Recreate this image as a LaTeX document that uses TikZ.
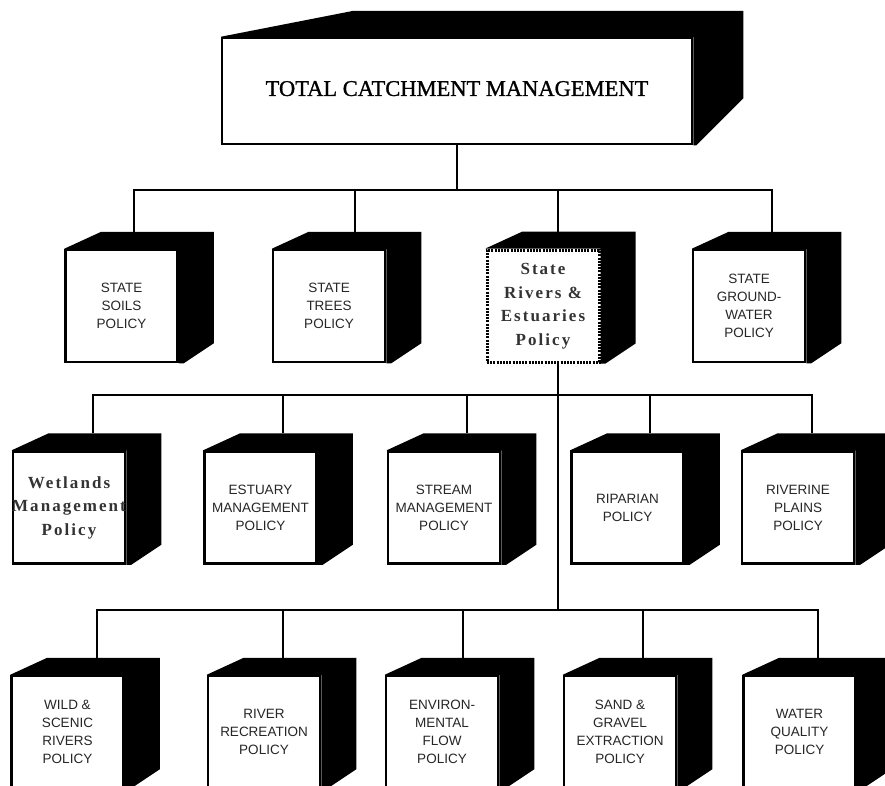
\documentclass[tikz,border=0pt]{standalone}
\usepackage{fontspec}
\setmainfont{Liberation Serif}
\setsansfont{Liberation Sans}
\usepackage{tikz}
\tikzset{
    > = latex
}

\begin{document}
\begin{tikzpicture}[x=1pt, y=-1pt, line width=2]
        \tikzstyle{face}=[draw, fill=white, line width=2.5, minimum width=112, minimum height=112, inner sep=0, align=center, text=black!85, font=\sffamily\fontsize{13.5}{18}\selectfont]
        \tikzstyle{serif}=[text=black!80, font=\rmfamily\bfseries\fontsize{17}{23.5}\selectfont\addfontfeature{LetterSpace=12}]
        \useasboundingbox (0,0) rectangle (885,785);
        \clip (0,0) rectangle (885,785);
        % top block
        \node[face, minimum width=470, minimum height=106, text=black, font=\rmfamily\fontsize{22.5}{27}\selectfont\addfontfeature{FakeBold=1}] (tcm) at (457,91) {\raisebox{5pt}{TOTAL CATCHMENT MANAGEMENT}};
        \fill (tcm.north west) -- ++(133,-26) -| ([shift={(50,-47)}]tcm.south east) -- ([shift={(3,0)}]tcm.south east) -- (tcm.south east) -- (tcm.north east) -- cycle;
        % state policies
        \node[face] (soils) at (121.5,306) {STATE\\SOILS\\POLICY};
        \node[face] (trees) at (329,306) {STATE\\TREES\\POLICY};
        \node[face, serif, line width=3, dash pattern=on 2pt off 1.2pt] (rivers) at (543,306) {State\\Rivers \&\\Estuaries\\Policy};
        \node[face] (ground) at (749,306) {STATE\\GROUND-\\WATER\\POLICY};
        % river policies
        \node[face, serif] (wetlands) at (69,507.5) {Wetlands\\\makebox[0pt]{Management}\\Policy};
        \node[face] (estuary) at (260.5,507.5) {ESTUARY\\MANAGEMENT\\POLICY};
        \node[face] (stream) at (444,507.5) {STREAM\\MANAGEMENT\\POLICY};
        \node[face] (riparian) at (627.5,507.5) {RIPARIAN\\POLICY};
        \node[face] (riverine) at (798,507.5) {RIVERINE\\PLAINS\\POLICY};
        \node[face] (wild) at (67.5,732) {WILD \&\\SCENIC\\RIVERS\\POLICY};
        \node[face] (recreation) at (264,732) {RIVER\\RECREATION\\POLICY};
        \node[face] (environ) at (442,732) {ENVIRON-\\MENTAL\\FLOW\\POLICY};
        \node[face] (sand) at (620,732) {SAND \&\\GRAVEL\\EXTRACTION\\POLICY};
        \node[face] (water) at (799.5,732) {WATER\\QUALITY\\POLICY};
        \foreach \b in {soils,trees,rivers,ground,wetlands,estuary,stream,riparian,riverine,wild,recreation,environ,sand,water}
            \fill (\b.north west) -- ++(37,-17) -| ([shift={(35,-20)}]\b.south east) -- ([shift={(5,0)}]\b.south east) -- (\b.south east) -- (\b.north east) -- cycle;
        % connectors
        \coordinate (row2) at (0,190);
        \coordinate (row3) at (0,395);
        \coordinate (row4) at (0,610);
        \coordinate (trunk) at ([xshift=15]rivers.south);
        \draw (tcm.south) -- (tcm.south |- row2);
        \foreach \b/\o in {soils/12,trees/26,rivers/15,ground/23}
            \draw ([shift={(\o,-17)}]\b.north) |- (tcm.south |- row2);
        \draw (trunk) -- (trunk |- row4);
        \foreach \b/\o in {wetlands/24,estuary/22,stream/23,riparian/22,riverine/14}
            \draw ([shift={(\o,-17)}]\b.north) |- (trunk |- row3);
        \foreach \b/\o in {wild/29,recreation/19,environ/21,sand/23,water/18}
            \draw ([shift={(\o,-17)}]\b.north) |- (trunk |- row4);
    \end{tikzpicture}
\end{document}
